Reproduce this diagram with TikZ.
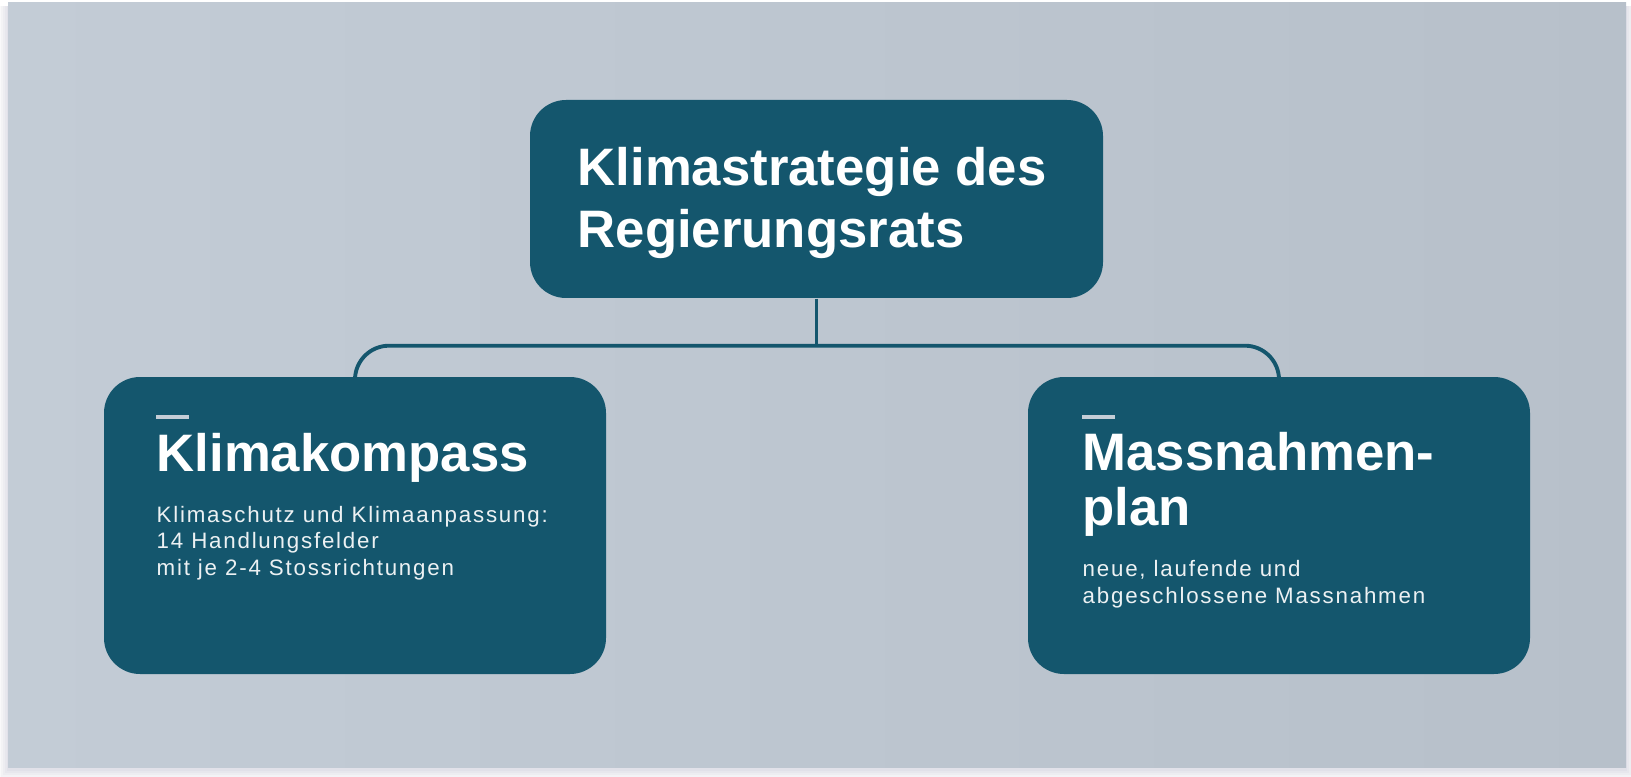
\documentclass[tikz,border=0pt]{standalone}
\usepackage{fontspec}
\setmainfont{Liberation Sans}
\newfontfamily\bodyfont[LetterSpace=8]{Liberation Sans}
\usetikzlibrary{positioning,calc}
\definecolor{panel}{RGB}{195,204,214}
\definecolor{paneldark}{RGB}{183,192,202}
\definecolor{boxblue}{RGB}{20,86,109}
\definecolor{tickgray}{RGB}{196,205,214}
\tikzset{box/.style={fill=boxblue,rounded corners=3.6mm,inner sep=0pt},
  head/.style={text=white,font=\fontsize{15}{17.8}\selectfont\bfseries,inner sep=0pt,align=left,anchor=base west},
  body/.style={text=white!92!boxblue,font=\bodyfont\fontsize{6.35}{7.4}\selectfont,inner sep=0pt,align=left,anchor=base west},
  link/.style={draw=boxblue,line width=1.1pt,rounded corners=3.4mm},
  tick/.style={draw=tickgray,line width=1pt}}

\begin{document}
\begin{tikzpicture}
\useasboundingbox (0,0) rectangle (16.31,7.76);
\fill[white] (0,0) rectangle (16.31,7.76);
% soft shadow under the panel
\foreach \d in {0.01,0.03,0.05,0.07,0.09}
  \fill[black!70!blue,opacity=0.025] (0.08-\d,0.06-\d) rectangle (16.26+\d,7.70);
\shade[left color=panel,middle color=panel,right color=paneldark] (0.08,0.09) rectangle (16.26,7.73);

% boxes
\node[box,minimum width=5.73cm,minimum height=1.98cm] (strat) at (8.165,5.77) {};
\node[box,minimum width=5.02cm,minimum height=2.97cm] (kompass) at (3.55,2.505) {};
\node[box,minimum width=5.02cm,minimum height=2.97cm] (plan) at (12.79,2.505) {};

% texts (base = last line)
\node[head] (strattext) at (5.77,5.28) {Klimastrategie des\\Regierungsrats};
\node[head] (kompasstitle) at (1.56,3.05) {Klimakompass};
\node[body] (kompassbody) at (1.56,2.01) {Klimaschutz und Klimaanpassung:\\14 Handlungsfelder\\mit je 2-4 Stossrichtungen};
\node[head,font=\fontsize{15}{15.6}\selectfont\bfseries] (plantitle) at (10.82,2.51) {Massnahmen-\\plan};
\node[body] (planbody) at (10.82,1.73) {neue, laufende und\\abgeschlossene Massnahmen};

% short bars over the titles
\draw[tick] (1.56,3.59) -- ++(0.33,0);
\draw[tick] (10.82,3.59) -- ++(0.33,0);

% connectors
\coordinate (fork) at ($(strat.south)+(0,-0.47)$);
\draw[link] (strat.south) -- (fork);
\draw[link] (kompass.north) |- (fork) -| (plan.north);
\end{tikzpicture}
\end{document}
